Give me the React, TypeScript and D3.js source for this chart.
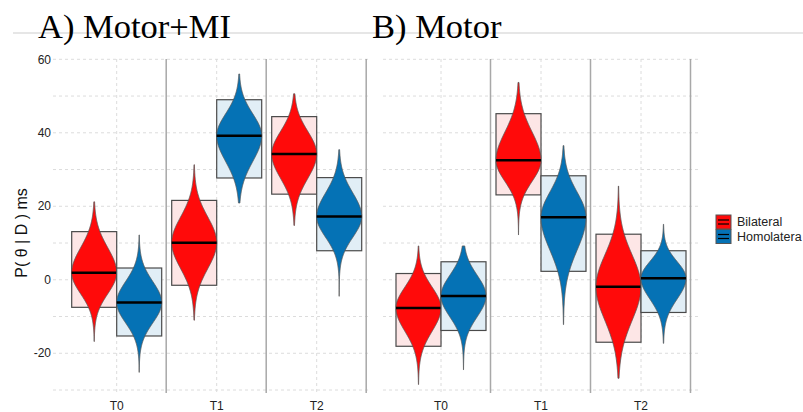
import * as d3 from "d3";
import { useEffect, useRef } from "react";

const panels = ["A) Motor+MI", "B) Motor"];
const times = ["T0", "T1", "T2"];
const groups = ["Bilateral", "Homolatera"];
const yTicks = [60, 40, 20, 0, -20];
const gridValues = [60, 50, 40, 30, 20, 10, 0, -10, -20, -30];

// values per panel, then T0..T2
const bilateralMedian = [[1.9, 10.1, 34.2], [-7.7, 32.5, -1.9]];
const bilateralHigh = [[13.1, 21.6, 44.4], [1.7, 45.2, 12.4]];
const bilateralLow = [[-7.5, -1.5, 23.3], [-18.1, 23.1, -17]];
const bilateralMax = [[21.2, 31.3, 50.6], [9.2, 53.7, 25.5]];
const bilateralMin = [[-16.8, -11, 14.8], [-28.5, 12.2, -26.8]];

const homolateraMedian = [[-6.2, 39.2, 17.2], [-4.4, 17, 0.4]];
const homolateraHigh = [[3.2, 49, 27.8], [4.9, 28.3, 7.9]];
const homolateraLow = [[-15.3, 27.7, 7.9], [-13.8, 2.3, -8.9]];
const homolateraMax = [[12.2, 56, 35.4], [9.2, 36.5, 15.1]];
const homolateraMin = [[-25.2, 20.9, -4.5], [-24.5, -12.2, -17.3]];

const colors = ["#ff0a0a", "#0572b5"];
const boxFills = ["#fde6e6", "#e1eef6"];

function App() {
  const ref = useRef<SVGSVGElement | null>(null);

  useEffect(() => {
    const width = 803;
    const height = 412;
    const svg = d3.select(ref.current);
    svg.selectAll("*").remove();

    const font = "'Liberation Sans', Arial, sans-serif";

    const y = d3.scaleLinear().domain([-30, 60]).range([390, 59.3]);

    const panelRanges: [number, number][] = [
      [66.7, 366.7],
      [391, 691],
    ];
    const panelExtent: [number, number][] = [
      [53, 370],
      [383, 698],
    ];

    // title rule
    svg
      .append("line")
      .attr("x1", 13)
      .attr("x2", width)
      .attr("y1", 33)
      .attr("y2", 33)
      .attr("stroke", "#dedede")
      .attr("stroke-width", 1.5);

    const titleX = [38, 372];
    panels.forEach((p, i) => {
      svg
        .append("text")
        .attr("x", titleX[i])
        .attr("y", 38)
        .attr("font-family", "'Liberation Serif', 'Times New Roman', serif")
        .attr("font-size", 34.5)
        .attr("fill", "#000")
        .text(p);
    });

    // y axis
    svg
      .selectAll(".ytick")
      .data(yTicks)
      .join("text")
      .attr("class", "ytick")
      .attr("x", 51)
      .attr("y", (d) => y(d))
      .attr("dy", "0.35em")
      .attr("text-anchor", "end")
      .attr("font-family", font)
      .attr("font-size", 12)
      .attr("fill", "#222")
      .text((d) => d);

    svg
      .append("text")
      .attr("transform", `translate(27,${233}) rotate(-90)`)
      .attr("text-anchor", "middle")
      .attr("font-family", font)
      .attr("font-size", 16)
      .attr("fill", "#111")
      .text("P( θ | D ) ms");

    panels.forEach((_, pi) => {
      const x = d3.scaleBand().domain(times).range(panelRanges[pi]).padding(0);
      const g = svg.append("g");
      const [x0, x1] = panelExtent[pi];

      // horizontal grid
      g.selectAll(".hgrid")
        .data(gridValues)
        .join("line")
        .attr("x1", x0)
        .attr("x2", x1)
        .attr("y1", (d) => y(d))
        .attr("y2", (d) => y(d))
        .attr("stroke", "#dcdcdc")
        .attr("stroke-dasharray", "3,3");

      // vertical grid at group centres
      g.selectAll(".vgrid")
        .data(times)
        .join("line")
        .attr("x1", (d) => x(d)! + x.bandwidth() / 2)
        .attr("x2", (d) => x(d)! + x.bandwidth() / 2)
        .attr("y1", 59)
        .attr("y2", 392)
        .attr("stroke", "#dcdcdc")
        .attr("stroke-dasharray", "3,3");

      // separators
      g.selectAll(".sep")
        .data(times)
        .join("line")
        .attr("x1", (d) => x(d)! + x.bandwidth() - 0.5)
        .attr("x2", (d) => x(d)! + x.bandwidth() - 0.5)
        .attr("y1", 59)
        .attr("y2", 393)
        .attr("stroke", "#a8a8a8")
        .attr("stroke-width", 1.5);

      // x labels
      g.selectAll(".xlab")
        .data(times)
        .join("text")
        .attr("x", (d) => x(d)! + x.bandwidth() / 2)
        .attr("y", 410)
        .attr("text-anchor", "middle")
        .attr("font-family", font)
        .attr("font-size", 12)
        .attr("fill", "#222")
        .text((d) => d);

      times.forEach((t, ti) => {
        const c = x(t)! + x.bandwidth() / 2;
        const sub = d3.scaleBand().domain(groups).range([c - 45, c + 45]);
        const stats = [
          {
            m: bilateralMedian[pi][ti],
            hi: bilateralHigh[pi][ti],
            lo: bilateralLow[pi][ti],
            max: bilateralMax[pi][ti],
            min: bilateralMin[pi][ti],
          },
          {
            m: homolateraMedian[pi][ti],
            hi: homolateraHigh[pi][ti],
            lo: homolateraLow[pi][ti],
            max: homolateraMax[pi][ti],
            min: homolateraMin[pi][ti],
          },
        ];
        groups.forEach((grp, gi) => {
          const s = stats[gi];
          const bx = sub(grp)!;
          const bw = sub.bandwidth();
          const mid = bx + bw / 2;

          g.append("rect")
            .attr("x", bx)
            .attr("y", y(s.hi))
            .attr("width", bw)
            .attr("height", y(s.lo) - y(s.hi))
            .attr("fill", boxFills[gi])
            .attr("stroke", "#4a4a4a")
            .attr("stroke-width", 1.2);

          // bean outline from the interval spread on each side
          const sUp = (s.hi - s.m) / 1.65;
          const sDown = (s.m - s.lo) / 1.65;
          const pts = d3.range(0, 1.0001, 0.005).map((k) => s.min + k * (s.max - s.min));
          const half = (v: number) => {
            const sd = v >= s.m ? sUp : sDown;
            const z = (v - s.m) / sd;
            return (bw / 2) * Math.exp(-0.5 * z * z);
          };
          const area = d3
            .area<number>()
            .y((v) => y(v))
            .x0((v) => mid - half(v))
            .x1((v) => mid + half(v))
            .curve(d3.curveBasis);

          g.append("path")
            .attr("d", area(pts))
            .attr("fill", colors[gi])
            .attr("stroke", "#555")
            .attr("stroke-width", 0.8);

          g.append("line")
            .attr("x1", bx)
            .attr("x2", bx + bw)
            .attr("y1", y(s.m))
            .attr("y2", y(s.m))
            .attr("stroke", "#000")
            .attr("stroke-width", 2.5);
        });
      });
    });

    // legend
    const legend = svg.append("g").attr("transform", "translate(716,215)");
    groups.forEach((grp, i) => {
      const row = legend.append("g").attr("transform", `translate(0,${i * 14.5})`);
      row
        .append("rect")
        .attr("width", 15)
        .attr("height", 14)
        .attr("fill", colors[i])
        .attr("stroke", "#555")
        .attr("stroke-width", 1);
      [5, 9].forEach((ly) => {
        row
          .append("line")
          .attr("x1", 2)
          .attr("x2", 13)
          .attr("y1", ly)
          .attr("y2", ly)
          .attr("stroke", "#000")
          .attr("stroke-width", 1.2);
      });
      row
        .append("text")
        .attr("x", 21)
        .attr("y", 7)
        .attr("dy", "0.35em")
        .attr("font-family", font)
        .attr("font-size", 12.5)
        .attr("fill", "#222")
        .text(grp);
    });

    svg.attr("width", width).attr("height", height);
  }, []);

  return (
    <svg
      ref={ref}
      width={803}
      height={412}
      style={{ position: "absolute", left: 0, top: 0, background: "#fff" }}
    />
  );
}

export default App;
